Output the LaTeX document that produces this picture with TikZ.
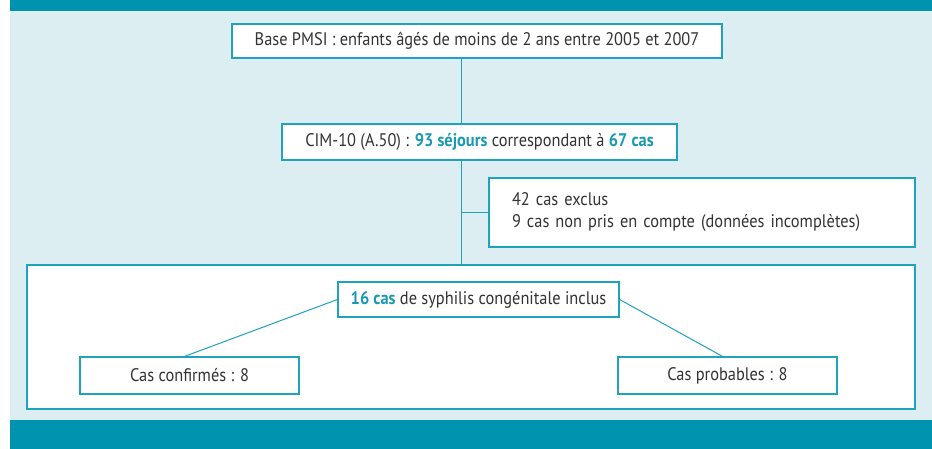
\documentclass[tikz,border=0pt]{standalone}
\usepackage{fontspec}
\setmainfont{PT Sans}[FakeStretch=0.9]
\usepackage{tikz}
\usetikzlibrary{positioning,calc}

\definecolor{bandeau}{HTML}{0093B0}
\definecolor{fond}{HTML}{DDEEF3}
\definecolor{trait}{HTML}{1FA2BE}
\definecolor{texte}{HTML}{333333}
\definecolor{chiffre}{HTML}{1A99B3}
\newcommand\enbleu[1]{\textbf{\textcolor{chiffre}{#1}}}

\begin{document}
\begin{tikzpicture}[x=1pt, y=-1pt,
  boite/.style={draw=trait, line width=1.2pt, fill=white, text=texte, inner sep=0pt,
    align=center, font=\fontsize{18.2}{22}\selectfont},
  lien/.style={draw=trait, line width=1pt}]
\useasboundingbox (0,0) rectangle (932,449);

% cadre et bandeaux
\fill [fond] (10,11) rectangle (932,420);
\fill [bandeau] (10,0) rectangle (932,11);
\fill [bandeau] (10,420) rectangle (932,449);

\node (cadre) [boite, minimum width=888, minimum height=144] at (471,337) {};

\node (base) [boite, minimum width=490, minimum height=34] at (477,41)
  {Base PMSI : enfants âgés de moins de 2 ans entre 2005 et 2007};
\node (cim) [boite, minimum width=395, minimum height=36] at (479.5,142)
  {CIM-10 (A.50) : \enbleu{93 séjours} correspondant à \enbleu{67 cas}};
\node (exclus) [boite, minimum width=426, minimum height=69, text width=380, align=left] at (702,212.5)
  {42 cas exclus\\9 cas non pris en compte (données incomplètes)};

\node (inclus) [boite, minimum width=281, minimum height=35] at (478.5,299.5)
  {\enbleu{16 cas} de syphilis congénitale inclus};
\node (confirmes) [boite, minimum width=219, minimum height=37] at (189.5,375.5) {Cas confirmés : 8};
\node (probables) [boite, minimum width=219, minimum height=37] at (727.5,375.5) {Cas probables : 8};

% tronc vertical
\coordinate (t) at (461,0);
\draw [lien] (base.south -| t) -- (cim.north -| t);
\draw [lien] (cim.south -| t) -- (cadre.north -| t);
\draw [lien] (exclus.west -| t) -- (exclus.west);

\draw [lien] (inclus.west) -- ([xshift=-5]confirmes.north);
\draw [lien] (inclus.east) -- ([xshift=-5]probables.north);
\end{tikzpicture}
\end{document}
